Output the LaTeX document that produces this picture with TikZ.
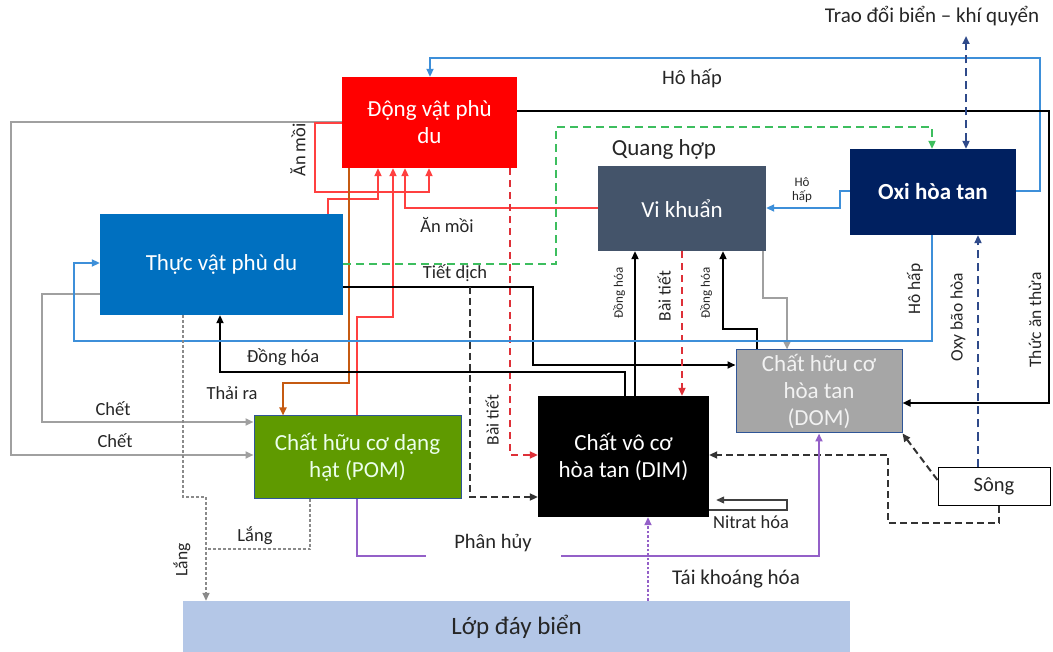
\documentclass[tikz,border=0pt]{standalone}
\usepackage{fontspec}
\setmainfont{Carlito}
\usetikzlibrary{arrows.meta,calc}
\definecolor{cDV}{HTML}{FF0000}
\definecolor{cTV}{HTML}{0070C0}
\definecolor{cVK}{HTML}{44546A}
\definecolor{cOX}{HTML}{002060}
\definecolor{cDOM}{HTML}{A6A6A6}
\definecolor{cPOM}{HTML}{5F9A00}
\definecolor{cDAY}{HTML}{B4C7E7}
\definecolor{cBord}{HTML}{2F5597}
\definecolor{cLbl}{HTML}{262626}
\definecolor{cRedL}{HTML}{FF4040}
\definecolor{cRedD}{HTML}{DE3038}
\definecolor{cOrg}{HTML}{C55A11}
\definecolor{cGrn}{HTML}{3DBE5E}
\definecolor{cBlu}{HTML}{3D8FD9}
\definecolor{cNavy}{HTML}{2F4A8A}
\definecolor{cPur}{HTML}{9460C8}
\definecolor{cGry}{HTML}{A0A0A0}
\definecolor{cDot}{HTML}{8A8A8A}
\newcommand\bigtxt{\fontsize{23}{27}\selectfont}
\newcommand\lbltxt{\fontsize{18.5}{21}\selectfont}
\newcommand\smltxt{\fontsize{13}{14}\selectfont}
\begin{document}
\begin{tikzpicture}[x=1pt,y=-1pt,
  >={Triangle[length=8pt,width=7pt]},
  box/.style={inner sep=0pt,align=center,text=white,font=\bigtxt},
  lbl/.style={inner sep=0pt,align=center,text=cLbl,font=\lbltxt},
  slbl/.style={inner sep=0pt,align=center,text=cLbl,font=\smltxt},
  ln/.style={line width=2pt},
  blk/.style={ln,draw=black},
  gryln/.style={ln,draw=cGry},
  redln/.style={ln,draw=cRedL},
  orgln/.style={ln,draw=cOrg},
  bluln/.style={ln,draw=cBlu},
  purln/.style={ln,draw=cPur},
  grndash/.style={ln,draw=cGrn,dash pattern=on 8pt off 5pt},
  reddash/.style={ln,draw=cRedD,dash pattern=on 7pt off 5pt},
  navydash/.style={ln,draw=cNavy,dash pattern=on 8pt off 5pt},
  blkdash/.style={ln,draw=black!80,dash pattern=on 7pt off 4pt},
  grydot/.style={line width=1.6pt,draw=cDot,dash pattern=on 3pt off 2pt},
  purdot/.style={line width=1.8pt,draw=cPur,dash pattern=on 2.5pt off 2pt},
]
\useasboundingbox (0,0) rectangle (1053,652);
\fill[white] (0,0) rectangle (1053,652);

% ---------- boxes ----------
\node[box,fill=cDV,minimum width=175pt,minimum height=91pt] (dv) at (429.5,122.5) {Động vật phù\\du};
\node[box,fill=cTV,minimum width=243pt,minimum height=101pt] (tv) at (221.5,264.5) {Thực vật phù du};
\node[box,fill=cVK,minimum width=168pt,minimum height=85pt] (vk) at (682,208.5) {Vi khuẩn};
\node[box,fill=cOX,minimum width=166pt,minimum height=86pt,font=\bigtxt\bfseries] (oxi) at (933,192) {Oxi hòa tan};
\node[box,fill=cDOM,draw=cBord,line width=1pt,minimum width=166pt,minimum height=83pt,text=white!95!black] (dom) at (819,391.5) {Chất hữu cơ\\hòa tan\\(DOM)};
\node[box,fill=cPOM,draw=cBord,line width=1pt,minimum width=207pt,minimum height=82pt,text=white!92!green] (pom) at (357.5,457) {Chất hữu cơ dạng\\hạt (POM)};
\node[box,fill=black,minimum width=171pt,minimum height=121pt] (dim) at (623.5,456.5) {Chất vô cơ\\hòa tan (DIM)};
\node[box,fill=white,draw=black,line width=1pt,minimum width=112pt,minimum height=38pt,text=cLbl,font=\fontsize{20.5}{24}\selectfont] (song) at (994,486) {Sông};
\node[box,fill=cDAY,minimum width=667pt,minimum height=51pt,text=cLbl,font=\fontsize{25}{28}\selectfont] (day) at (516.5,626.5) {Lớp đáy biển};

% ---------- labels ----------
\node[lbl,font=\fontsize{20.5}{24}\selectfont] (lhohap1) at (692,78) {Hô hấp};
\node[lbl,font=\fontsize{21}{24}\selectfont] (latm) at (932,16) {Trao đổi biển – khí quyển};
\node[lbl,font=\fontsize{23}{26}\selectfont] (lqh) at (664,149) {Quang hợp};
\node[lbl,rotate=90] (lanmoi1) at (298,150) {Ăn mồi};
\node[lbl] (lanmoi2) at (447,225) {Ăn mồi};
\node[lbl] (ltiet) at (455,273) {Tiết dịch};
\node[lbl] (ldonghoa) at (283,357) {Đồng hóa};
\node[lbl] (lthai) at (232,393) {Thải ra};
\node[lbl] (lchet1) at (113,409) {Chết};
\node[lbl] (lchet2) at (115,441) {Chết};
\node[lbl,rotate=90,font=\fontsize{17.5}{20}\selectfont] (lbt1) at (492,420) {Bài tiết};
\node[slbl,rotate=90] (ldh1) at (619,293) {Đồng hóa};
\node[lbl,rotate=90,font=\fontsize{17.5}{20}\selectfont] (lbt2) at (664,296) {Bài tiết};
\node[slbl,rotate=90] (ldh2) at (706,293) {Đồng hóa};
\node[slbl] (lhohap2) at (802,190) {Hô\\hấp};
\node[lbl,rotate=90,font=\fontsize{17.5}{20}\selectfont] (lhohap3) at (915,289) {Hô hấp};
\node[lbl,rotate=90,font=\fontsize{17.5}{20}\selectfont] (loxy) at (958,317) {Oxy bão hòa};
\node[lbl,rotate=90,font=\fontsize{17.5}{20}\selectfont] (lthua) at (1035,320) {Thức ăn thừa};
\node[lbl] (lnitrat) at (751,522) {Nitrat hóa};
\node[lbl,font=\fontsize{21}{24}\selectfont] (ltaikh) at (736,579) {Tái khoáng hóa};
\node[lbl,rotate=90,font=\fontsize{17.5}{20}\selectfont] (llang1) at (182,560) {Lắng};
\node[lbl] (llang2) at (255,536) {Lắng};

\coordinate (td) at (470,287);
\coordinate (atm) at (966,36);

% ---------- connectors ----------
% Chết (grey)
\draw[gryln,->] (dv.west |- 0,122) -- (11,122) -- (11,455) -- (pom.west |- 0,455);
\draw[gryln,->] (tv.west |- 0,294) -- (42,294) -- (42,422) -- (pom.west |- 0,422);
% Hô hấp (blue, top)
\draw[bluln,->] (oxi.east |- 0,191) -- (1040,191) -- (1040,58) -- (430,58) -- (430,0 |- dv.north);
% Thức ăn thừa
\draw[blk,->] (dv.east |- 0,111) -- (1049,111) -- (1049,403) -- (dom.east |- 0,403);
% Ăn mồi (red)
\draw[redln,->] (dv.west |- 0,123) -- (315,123) -- (315,192) -- (429,192) -- (429,0 |- dv.south);
\draw[redln,->] (328,0 |- tv.north) -- (328,199) -- (378,199) -- (378,0 |- dv.south);
\draw[redln,->] (357,0 |- pom.north) -- (357,317) -- (393,317) -- (393,0 |- dv.south);
\draw[redln,->] (vk.west |- 0,208) -- (405,208) -- (405,0 |- dv.south);
% Thải ra
\draw[orgln,->] (349,0 |- dv.south) -- (349,383) -- (283,383) -- (283,0 |- pom.north);
% Quang hợp
\draw[grndash,->] (tv.east |- 0,264) -- (556,264) -- (556,127) -- (932,127) -- (932,0 |- oxi.north);
% Bài tiết (zooplankton)
\draw[reddash,->] (510,0 |- dv.south) -- (510,455) -- (dim.west |- 0,455);
% Tiết dịch
\draw[blk,->] (tv.east |- 0,287) -- (533,287) -- (533,365) -- (dom.west |- 0,365);
\draw[blkdash,->] (td) -- (470,497) -- (dim.west |- 0,497);
% Đồng hóa
\draw[blk,->] (625,0 |- dim.north) -- (625,372) -- (220,372) -- (220,0 |- tv.south);
\draw[blk,->] (635,0 |- dim.north) -- (635,0 |- vk.south);
\draw[reddash,->] (682,0 |- vk.south) -- (682,0 |- dim.north);
\draw[blk,->] (757,0 |- dom.north) -- (757,329) -- (723,329) -- (723,0 |- vk.south);
\draw[gryln,->] (763,0 |- vk.south) -- (763,298) -- (787,298) -- (787,0 |- dom.north);
% Hô hấp (blue)
\draw[bluln,->] (932,0 |- oxi.south) -- (932,341) -- (74,341) -- (74,263) -- (tv.west |- 0,263);
\draw[bluln,->] (oxi.west |- 0,191) -- (840,191) -- (840,208) -- (vk.east |- 0,208);
% Trao đổi biển - khí quyển
\draw[navydash,<->] (966,0 |- oxi.north) -- (atm);
% Oxy bão hòa
\draw[navydash,->] (978,0 |- song.north) -- (978,0 |- oxi.south);
% Sông
\draw[blkdash,->] (song.west |- 0,480) -- (dom.south east);
\draw[blkdash,->] (999,0 |- song.south) -- (999,523) -- (888,523) -- (888,455) -- (dim.east |- 0,455);
% Nitrat hóa
\draw[line width=1.2pt,draw=black!75,->,shorten >=7pt] (dim.east |- 0,510) -- (787,510) -- (787,500) -- (dim.east |- 0,500);
% Phân hủy
\draw[purln,->] (357,0 |- pom.south) -- (357,556) -- (819,556) -- (819,0 |- dom.south);
\node[lbl,fill=white,minimum width=135pt,minimum height=28pt,font=\fontsize{20.5}{24}\selectfont] (lphanhuy) at (493,543) {Phân hủy};
% Tái khoáng hóa
\draw[purdot,->] (648,0 |- day.north) -- (648,0 |- dim.south);
% Lắng
\draw[grydot,->] (183,0 |- tv.south) -- (183,497) -- (206,497) -- (206,0 |- day.north);
\draw[grydot] (310,0 |- pom.south) -- (310,549) -- (206,549);
\end{tikzpicture}
\end{document}
